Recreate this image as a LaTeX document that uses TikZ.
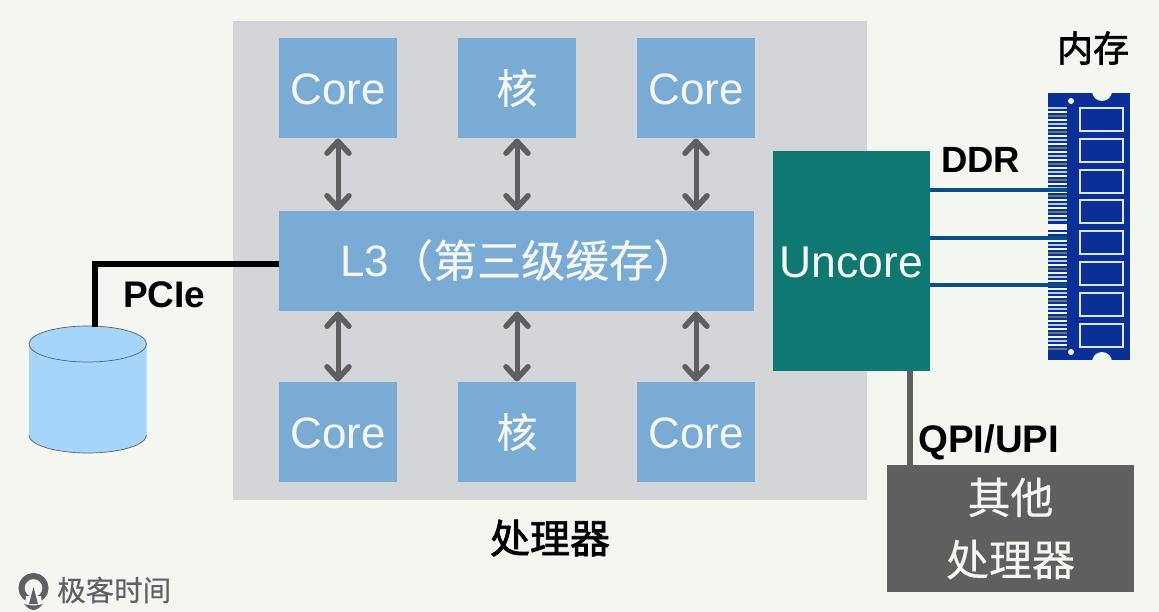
\documentclass[tikz,border=0pt]{standalone}
\usepackage{fontspec}
\setmainfont{Liberation Sans}
\newfontfamily\cjk[FakeBold=0.35]{Noto Sans CJK SC}
\newfontfamily\cjkb[FakeBold=1.8]{Noto Sans CJK SC}
\usetikzlibrary{arrows.meta}
\definecolor{pagebg}{HTML}{F4F6F0}
\definecolor{procgrey}{HTML}{D4D5D8}
\definecolor{coreblue}{HTML}{7AABD5}
\definecolor{unteal}{HTML}{0F7873}
\definecolor{darkgrey}{HTML}{5F5F5F}
\definecolor{cylblue}{HTML}{A6D5FC}
\definecolor{memblue}{HTML}{0A2F96}
\definecolor{ddrblue}{HTML}{0B4F8A}
\definecolor{framelight}{HTML}{DDE6F2}
\definecolor{logogrey}{HTML}{5E6066}
\newcommand{\fsz}[1]{\fontsize{#1}{#1}\selectfont}
\newcommand{\lo}[1]{\raisebox{0pt}[\dimexpr\height+3.2pt\relax][\depth]{#1}}
\tikzset{
  x=1pt,y=-1pt,
  block/.style={anchor=north west,inner sep=0pt,outer sep=0pt,draw=none,align=center},
  corebox/.style={block,fill=coreblue,text=pagebg,minimum width=118pt,minimum height=100pt},
  biarrow/.style={draw=darkgrey,line width=5pt,{Straight Barb[length=12pt,width=22pt,line width=5.5pt,round]}-{Straight Barb[length=12pt,width=22pt,line width=5.5pt,round]},shorten >=0.5pt,shorten <=0.5pt},
  ddrline/.style={draw=ddrblue,line width=4.5pt},
  blacklabel/.style={inner sep=0pt,text=black},
  chipframe/.style={draw=framelight,line width=2pt,fill=memblue},
}
\begin{document}
\begin{tikzpicture}
\useasboundingbox (0,0) rectangle (1159,612);
\fill[pagebg] (0,0) rectangle (1159,612);

% processor
\node[block,fill=procgrey,minimum width=634pt,minimum height=479pt] (proc) at (233,21) {};
\node[blacklabel,font=\cjkb\fsz{40}] (proclabel) at (550,538) {处理器};

% blocks
\node[corebox,font=\fsz{44}] (c1) at (279,38) {\lo{Core}};
\node[corebox,font=\cjk\fsz{41}] (c2) at (458,38) {核};
\node[corebox,font=\fsz{44}] (c3) at (637,38) {\lo{Core}};
\node[block,fill=coreblue,text=pagebg,minimum width=475pt,minimum height=100pt] (l3) at (279,211) {};
\node[text=pagebg,inner sep=0pt,anchor=base west] (l3label) at (340,277) {\fsz{44}L3\cjk\fsz{44}（第三级缓存）};
\node[corebox,font=\fsz{44}] (c4) at (279,382) {\lo{Core}};
\node[corebox,font=\cjk\fsz{41}] (c5) at (458,382) {核};
\node[corebox,font=\fsz{44}] (c6) at (637,382) {\lo{Core}};

% arrows
\draw[biarrow] (c1.south) -- (c1.south |- l3.north);
\draw[biarrow] (c2.south) -- (c2.south |- l3.north);
\draw[biarrow] (c3.south) -- (c3.south |- l3.north);
\draw[biarrow] (c4.north) -- (c4.north |- l3.south);
\draw[biarrow] (c5.north) -- (c5.north |- l3.south);
\draw[biarrow] (c6.north) -- (c6.north |- l3.south);

% cylinder
\fill[cylblue] (29,344) -- (29,435) arc[start angle=180,end angle=0,x radius=58.75,y radius=18]
  -- (146.5,344) -- cycle;
\draw[darkgrey,line width=0.7pt] (29,435) arc[start angle=180,end angle=0,x radius=58.75,y radius=18];
\draw[darkgrey,line width=0.7pt,fill=cylblue] (87.75,344) ellipse[x radius=58.75,y radius=18];
\coordinate (disk) at (94.5,327);
\coordinate (pcibend) at (94.5,264);
\draw[black,line width=6pt,line join=miter] (l3.west |- pcibend) -- (pcibend) -- (disk);
\node[blacklabel,font=\bfseries\fsz{37},anchor=base west] (pcie) at (123,308) {PCIe};

% memory module
\fill[memblue] (1048,93) rectangle (1129.5,360);
\fill[pagebg] (1102,91) circle[radius=10];
\fill[pagebg] (1102,362) circle[radius=10];
\fill[pagebg] (1071,101) circle[radius=3];
\fill[pagebg] (1071,352) circle[radius=3];
\foreach \yy [count=\i] in {107,111,...,219,232,236,...,351}{
  \pgfmathtruncatemacro{\m}{mod(\i,4)}
  \ifcase\m \def\cc{pagebg}\or\def\cc{coreblue!60!white}\or\def\cc{pagebg}\or\def\cc{darkgrey!70!coreblue}\fi
  \fill[\cc] (1048,\yy) rectangle (1067,\yy+2);
}
\fill[pagebg] (1048,224) rectangle (1067,230);
\foreach \yy in {108,138.8,169.6,200.4,231.2,262,292.8,323.6}{
  \draw[chipframe] (1080,\yy) rectangle (1123,\yy+23);
}
\node[inner sep=0pt,outer sep=0pt,minimum width=81.5pt,minimum height=267pt,anchor=north west] (mem) at (1048,93) {};
\node[blacklabel,font=\cjkb\fsz{36}] (memlabel) at (1093,48) {内存};

% uncore
\node[block,fill=unteal,text=pagebg,font=\fsz{44.5},minimum width=156.5pt,minimum height=220pt] (unc) at (773,151) {\lo{Uncore}};
\node[block,fill=darkgrey,text=pagebg,font=\cjk\fontsize{43}{62}\selectfont,minimum width=247pt,minimum height=127pt] (oth) at (887,465) {其他\\处理器};

% ddr
\coordinate (d1) at (1067,190);
\coordinate (d2) at (1067,238);
\coordinate (d3) at (1067,285);
\draw[ddrline] (unc.east |- d1) -- (d1);
\draw[ddrline] (unc.east |- d2) -- (d2);
\draw[ddrline] (unc.east |- d3) -- (d3);
\node[blacklabel,font=\bfseries\fsz{36.5},anchor=base west] (ddr) at (941,173) {DDR};

% qpi
\coordinate (qx) at (910,420);
\draw[darkgrey,line width=6pt] (unc.south -| qx) -- (oth.north -| qx);
\node[blacklabel,font=\bfseries\fsz{38.4},anchor=base west] (qpi) at (918,452) {QPI/UPI};

% logo
\draw[logogrey,line width=6pt] (33.5,588) circle[radius=12];
\fill[pagebg] (26,596) -- (41,596) -- (42,605) -- (25,605) -- cycle;
\fill[logogrey] (33.5,587) -- (38,604) -- (29,604) -- cycle;
\fill[logogrey] (24,604) .. controls (29,606) and (38,606) .. (43,604) .. controls (40,608) and (36,610) .. (33.5,610) .. controls (31,610) and (27,608) .. (24,604) -- cycle;
\node[inner sep=0pt,text=logogrey,font=\cjk\fsz{28.5},anchor=west] (logotext) at (57,590) {极客时间};
\end{tikzpicture}
\end{document}
